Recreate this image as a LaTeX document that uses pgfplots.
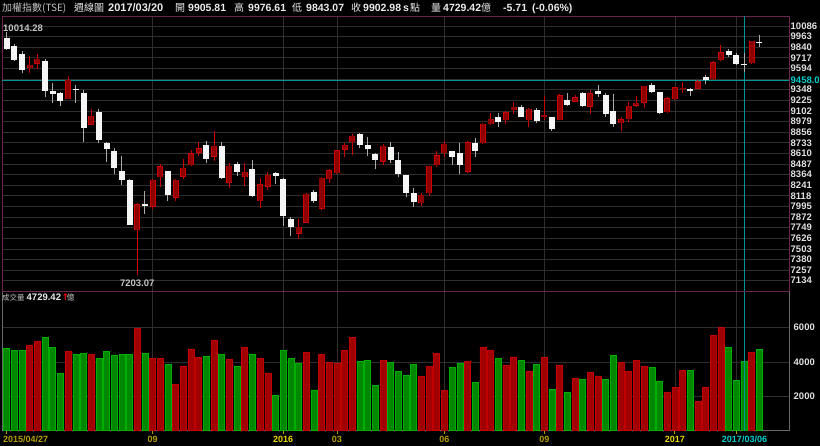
\documentclass[border=0pt]{standalone}
\usepackage{pgfplots}
\pgfplotsset{compat=1.18}
\usepackage{pgfplotstable}
\usepackage{fontspec}
\setmainfont{Liberation Sans}
\newfontfamily\cjk{Noto Sans CJK TC}
\newfontfamily\dejavu{DejaVu Sans}

\definecolor{gridc}{RGB}{46,46,46}
\definecolor{framec}{RGB}{105,38,78}
\definecolor{vframe}{RGB}{105,105,105}
\definecolor{cursorc}{RGB}{0,150,150}
\definecolor{cursorlbl}{RGB}{0,205,205}
\definecolor{tickc}{RGB}{225,225,225}
\definecolor{upred}{RGB}{205,0,0}
\definecolor{upfill}{RGB}{140,0,0}
\definecolor{wickgray}{RGB}{170,170,170}
\definecolor{downfill}{RGB}{245,245,245}
\definecolor{volred}{RGB}{160,0,0}
\definecolor{volredl}{RGB}{195,0,0}
\definecolor{volgreen}{RGB}{0,135,0}
\definecolor{volgreenl}{RGB}{0,175,0}
\definecolor{monthc}{RGB}{180,160,0}
\definecolor{yearc}{RGB}{235,215,0}
\definecolor{headc}{RGB}{235,235,235}
\definecolor{headgray}{RGB}{195,195,195}

% weekly candles, up weeks (red) and down weeks (white); i = week number
\pgfplotstableread{
i o h l c
4 9595 9738 9537 9634
5 9649 9765 9592 9704
9 9240 9507 9237 9464
12 8943 9124 8935 9043
18 7718 8038 7203.07 8019
20 7992 8309 7961 8301
21 8332 8487 8224 8460
23 8096 8309 8058 8301
24 8340 8544 8309 8444
25 8475 8649 8467 8610
26 8618 8738 8579 8668
28 8572 8870 8521 8699
30 8270 8494 8212 8467
32 8332 8494 8236 8398
34 8058 8320 7981 8251
35 8224 8390 8185 8359
39 7679 7853 7621 7756
40 7807 8150 7799 8143
42 7969 8340 7954 8328
43 8313 8432 8262 8413
44 8378 8653 8375 8645
45 8653 8734 8572 8707
46 8738 8834 8587 8811
50 8514 8722 8475 8699
55 8031 8154 8000 8127
56 8147 8466 8116 8463
57 8475 8633 8448 8587
58 8610 8757 8564 8718
61 8398 8757 8386 8738
63 8726 8958 8719 8950
64 8946 9074 8939 9008
66 8997 9101 8946 9086
67 9113 9201 9062 9151
69 8997 9132 8919 9124
71 9028 9279 8997 9055
73 8997 9294 8994 9283
75 9209 9286 9201 9259
77 9151 9344 9066 9306
81 8958 9035 8873 9004
82 9004 9201 8977 9159
83 9163 9279 9151 9198
84 9198 9395 9140 9391
87 9085 9259 9074 9248
88 9240 9383 9228 9375
89 9364 9433 9313 9371
91 9360 9460 9356 9445
93 9468 9684 9460 9665
94 9692 9866 9680 9781
98 9653 9915 9650 9912
}\upcandles

\pgfplotstableread{
i o h l c
1 9943 10014.28 9810 9816
2 9854 9873 9685 9688
3 9765 9796 9545 9576
6 9684 9700 9267 9336
7 9329 9422 9190 9302
8 9306 9325 9163 9217
10 9356 9402 9197 9348
11 9310 9344 8746 8908
13 9085 9120 8734 8765
14 8734 8745 8514 8664
15 8637 8668 8367 8444
16 8409 8579 8243 8301
17 8301 8313 7780 7783
19 8023 8174 7907 7996
22 8405 8409 8058 8127
27 8707 8753 8502 8548
29 8699 8738 8316 8320
31 8487 8510 8347 8394
33 8429 8533 8108 8112
36 8378 8394 8255 8344
37 8317 8324 7768 7884
38 7853 7868 7656 7753
41 8166 8181 8031 8062
47 8830 8850 8676 8707
48 8711 8803 8579 8657
49 8606 8610 8433 8533
51 8684 8745 8494 8533
52 8537 8622 8340 8371
53 8359 8362 8100 8147
54 8150 8205 7992 8050
59 8633 8641 8475 8568
60 8610 8726 8367 8475
62 8726 8784 8564 8637
65 9028 9082 8919 8977
68 9147 9170 9028 9035
70 9113 9132 8958 8985
72 9028 9035 8873 8892
74 9228 9306 9159 9167
76 9313 9325 9151 9159
78 9333 9402 9267 9302
79 9286 9313 9035 9062
80 9101 9298 8919 8950
85 9402 9429 9306 9317
86 9320 9325 9070 9074
90 9356 9364 9275 9329
92 9499 9518 9410 9460
95 9796 9816 9723 9750
96 9750 9769 9634 9642
97 9650 9769 9557 9634
99 9905.81 9976.61 9843.07 9902.98
}\downcandles

% weekly volume (100 million NTD)
\pgfplotstableread{
i v
4 4960
5 5190
9 4610
12 4440
18 5960
20 4210
21 4210
23 2700
24 3760
25 4750
26 4265
28 5270
30 4150
32 4844
34 4190
35 3340
40 4575
42 4420
43 3976
44 3940
45 4670
46 5420
50 4070
55 3170
56 3735
57 4510
58 2360
61 4045
63 4860
64 4680
66 3830
67 4295
69 3465
71 4275
73 3830
75 3040
77 3405
78 3190
81 3950
82 3445
83 4080
84 3715
87 2245
88 2535
89 3520
91 1720
92 2535
93 5550
94 6020
98 4530
}\volr

\pgfplotstableread{
i v
1 4786
2 4670
3 4650
6 5440
7 4844
8 3340
10 4440
11 4500
13 4210
14 4630
15 4360
16 4420
17 4420
19 4500
22 3860
27 4320
29 4420
31 3760
33 4460
36 2065
37 4690
38 4210
39 3920
41 2375
47 4014
48 4070
49 2644
51 3976
52 3435
53 3220
54 3870
59 3680
60 3930
62 2805
65 4200
68 4100
70 3870
72 2420
74 2225
76 2980
79 2960
80 4390
85 3680
86 2900
90 3500
95 4860
96 2920
97 4045
99 4729.42
}\volg

\pgfplotsset{
  panel/.style={
    scale only axis, width=787pt, xmin=0.388, xmax=102.86,
    scaled ticks=false,
    grid=major, grid style={draw=gridc, line width=0.7pt},
    yticklabel pos=right,
    yticklabel style={font=\fontsize{9.5}{10}\selectfont\bfseries, text=tickc, anchor=west, inner sep=1.5pt},
  },
  wick/.style={draw=none, mark=none, forget plot,
    error bars/.cd, y dir=plus, y explicit, error mark=none,
    error bar style={draw=#1, line width=1pt}},
  body/.style 2 args={draw=none, mark=none, forget plot,
    error bars/.cd, y dir=plus, y explicit, error mark=none,
    error bar style={draw=#1, line width=#2}},
}

\begin{document}
\begin{tikzpicture}[x=1pt,y=1pt]
\useasboundingbox (0,0) rectangle (820,446);
\fill[black] (0,0) rectangle (820,446);

% volume panel
\begin{axis}[panel, at={(2pt,15.3pt)}, anchor=south west, height=139.2pt,
  ymin=0, ymax=8093,
  ytick={2000,4000,6000}, yticklabels={2000,4000,6000},
  axis line style={draw=vframe, line width=0.8pt},
  xtick={20,37,44,58,71,88,96},
  xticklabels={\textcolor{monthc}{09},\textcolor{yearc}{2016},\textcolor{monthc}{03},\textcolor{monthc}{06},\textcolor{monthc}{09},\textcolor{yearc}{2017},{}},
  xticklabel style={font=\fontsize{9}{10}\selectfont\bfseries, inner sep=1pt, yshift=-1pt},
  xtick pos=bottom, tick align=outside, major tick length=3pt,
  ytick style={draw=none}, xtick style={draw=monthc, line width=0.8pt},
  extra x ticks={1},
  extra x tick labels={\rlap{\hspace*{-3.7pt}\textcolor{monthc}{2015/04/27}}},
  extra x tick style={grid=none},
]
\addplot[ybar, bar width=6pt, bar shift=0pt, fill=volgreen, draw=volgreenl, line width=0.6pt] table[x=i, y=v] {\volg};
\addplot[ybar, bar width=6pt, bar shift=0pt, fill=volred, draw=volredl, line width=0.6pt] table[x=i, y=v] {\volr};
\addplot[cursorc, line width=0.8pt] coordinates {(97,0) (97,8093)};
\end{axis}

% price panel
\begin{axis}[panel, at={(2pt,154.5pt)}, anchor=south west, height=275.5pt,
  ymin=7009, ymax=10202,
  axis line style={draw=framec, line width=0.9pt},
  ytick={7134,7257,7380,7503,7626,7749,7872,7995,8118,8241,8364,8487,8610,8733,8856,8979,9102,9225,9348,9471,9594,9717,9840,9963,10086},
  yticklabels={7134,7257,7380,7503,7626,7749,7872,7995,8118,8241,8364,8487,8610,8733,8856,8979,9102,9225,9348,{},9594,9717,9840,9963,10086},
  xtick={20,37,44,58,71,88,96}, xticklabels={},
  major tick length=0pt,
  extra y ticks={9458}, extra y tick labels={9458.0},
  extra y tick style={grid=major, grid style={draw=cursorc, line width=0.8pt}, yticklabel style={text=cursorlbl}},
  extra x ticks={97}, extra x tick labels={},
  extra x tick style={grid=major, grid style={draw=cursorc, line width=0.8pt}},
]
\addplot[wick=upred] table[x=i, y=l, y error plus expr=\thisrow{h}-\thisrow{l}] {\upcandles};
\addplot[wick=wickgray] table[x=i, y=l, y error plus expr=\thisrow{h}-\thisrow{l}] {\downcandles};
\addplot[body={upred}{6pt}] table[x=i, y=o, y error plus expr=\thisrow{c}-\thisrow{o}] {\upcandles};
\addplot[body={upfill}{4.2pt}] table[x=i, y expr=\thisrow{o}+5, y error plus expr=\thisrow{c}-\thisrow{o}-10] {\upcandles};
\addplot[body={downfill}{6pt}] table[x=i, y=c, y error plus expr=\thisrow{o}-\thisrow{c}] {\downcandles};
\node[anchor=base, inner sep=0pt, font=\fontsize{9.5}{10}\selectfont\bfseries, text=headgray] at (axis cs:18,7203.07) [yshift=-12pt] {7203.07};
\end{axis}

% header line
\begin{scope}[every node/.style={anchor=base west, inner sep=0pt}]
\node[text=headgray, font=\cjk\fontsize{10}{12}\selectfont] at (2,434) {加權指數(TSE)};
\node[text=headc, font=\cjk\fontsize{10}{12}\selectfont] at (74,434) {週線圖};
\node[text=headc, font=\bfseries\fontsize{11}{12}\selectfont] at (108,434) {2017/03/20};
\node[text=headc, font=\cjk\fontsize{10}{12}\selectfont] at (175,434) {開};
\node[text=headc, font=\bfseries\fontsize{10.5}{12}\selectfont] at (188,434) {9905.81};
\node[text=headc, font=\cjk\fontsize{10}{12}\selectfont] at (234,434) {高};
\node[text=headc, font=\bfseries\fontsize{10.5}{12}\selectfont] at (248,434) {9976.61};
\node[text=headc, font=\cjk\fontsize{10}{12}\selectfont] at (292,434) {低};
\node[text=headc, font=\bfseries\fontsize{10.5}{12}\selectfont] at (306,434) {9843.07};
\node[text=headc, font=\cjk\fontsize{10}{12}\selectfont] at (351,434) {收};
\node[text=headc, font=\bfseries\fontsize{10.5}{12}\selectfont] at (363,434) {9902.98};
\node[text=headc, font=\bfseries\fontsize{10.5}{12}\selectfont] at (403,434) {s};
\node[text=headc, font=\cjk\fontsize{10}{12}\selectfont] at (410,434) {點};
\node[text=headc, font=\cjk\fontsize{10}{12}\selectfont] at (431,434) {量};
\node[text=headc, font=\bfseries\fontsize{10.5}{12}\selectfont] at (443,434) {4729.42};
\node[text=headc, font=\cjk\fontsize{10}{12}\selectfont] at (481,434) {億};
\node[text=headc, font=\bfseries\fontsize{10.5}{12}\selectfont] at (503,434) {-5.71};
\node[text=headc, font=\bfseries\fontsize{10.5}{12}\selectfont] at (532,434) {(-0.06\%)};
% panel annotations
\node[text=headgray, font=\bfseries\fontsize{9.5}{10}\selectfont] at (3,414.3) {10014.28};
\node[text=headgray, font=\cjk\fontsize{7.5}{9}\selectfont] at (2,145) {成交量};
\node[text=headc, font=\bfseries\fontsize{9.5}{10}\selectfont] at (26.5,145) {4729.42};
\node[text=red, font=\dejavu\bfseries\fontsize{9}{10}\selectfont] at (61.5,145) {↑};
\node[text=headgray, font=\cjk\fontsize{8}{9}\selectfont] at (66.5,145) {億};
\node[anchor=base, text=cursorlbl, font=\bfseries\fontsize{9}{10}\selectfont] at (744.5,3.5) {2017/03/06};
\end{scope}
\end{tikzpicture}
\end{document}
